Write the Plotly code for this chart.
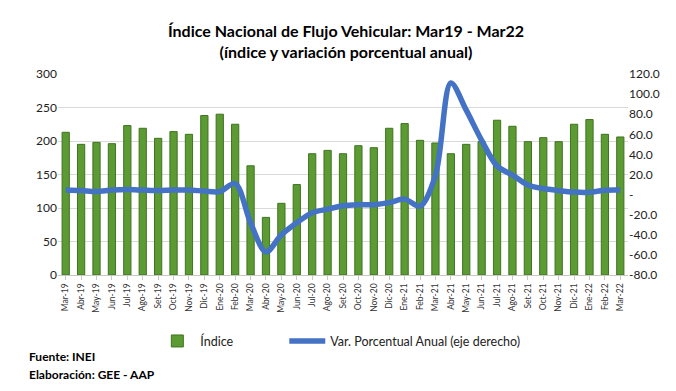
import plotly.graph_objects as go

months = ["Mar-19","Abr-19","May-19","Jun-19","Jul-19","Ago-19","Set-19","Oct-19","Nov-19","Dic-19",
          "Ene-20","Feb-20","Mar-20","Abr-20","May-20","Jun-20","Jul-20","Ago-20","Set-20","Oct-20","Nov-20","Dic-20",
          "Ene-21","Feb-21","Mar-21","Abr-21","May-21","Jun-21","Jul-21","Ago-21","Set-21","Oct-21","Nov-21","Dic-21",
          "Ene-22","Feb-22","Mar-22"]
indice = [213,195,198,196,223,219,204,214,210,238,
          240,225,163,86,107,135,181,186,181,193,190,219,
          226,201,197,181,195,199,231,222,199,205,199,225,
          232,210,206]
var_anual = [4.5,4.0,3.0,4.5,5.0,4.5,4.0,4.5,4.5,3.5,
             3.0,11.0,-28.0,-57.0,-40.0,-28.0,-18.0,-14.5,-11.0,-10.0,-10.0,-8.0,
             -4.5,-11.5,19.0,111.0,84.0,54.0,28.5,19.5,9.5,6.0,4.0,2.5,
             2.3,4.3,4.5]

right_vals = [120,100,80,60,40,20,0,-20,-40,-60,-80]
right_text = ["120.0","100.0","80.0","60.0","40.0","20.0","-","-20.0","-40.0","-60.0","-80.0"]

font_fam = "Lato, Open Sans, sans-serif"

fig = go.Figure()
fig.add_trace(go.Bar(
    x=months, y=indice, name="Índice",
    marker=dict(color="#5c9a33", line=dict(color="#3f7420", width=1)),
    width=0.47, yaxis="y", legend="legend",
))
fig.add_trace(go.Scatter(
    x=months, y=var_anual, name="Var. Porcentual Anual (eje derecho)",
    mode="lines", line=dict(color="#4472c4", width=5.5, shape="spline", smoothing=0.9),
    yaxis="y2", legend="legend2",
))

fig.update_layout(
    width=676, height=391,
    margin=dict(l=50, r=56, t=66, b=124, autoexpand=False),
    paper_bgcolor="white", plot_bgcolor="white",
    font=dict(family=font_fam, color="#222222"),
    title=dict(
        text="<b>Índice Nacional de Flujo Vehicular: Mar19 - Mar22<br>(índice y variación porcentual anual)</b>",
        x=0.5, xref="container", y=0.925, yanchor="middle",
        font=dict(size=16, color="#000000", family=font_fam),
    ),
    xaxis=dict(
        type="category", tickangle=-90, tickfont=dict(size=8.5, color="#333333"),
        showline=True, linecolor="#c8c8c8", ticks="outside", ticklen=4, tickcolor="#c8c8c8",
        showgrid=False, automargin=False,
    ),
    yaxis=dict(
        range=[0, 300], dtick=50, tickfont=dict(size=12, color="#222222"),
        showgrid=True, gridcolor="#d9d9d9", zeroline=False, showline=False, automargin=False,
    ),
    yaxis2=dict(
        range=[-80, 120], overlaying="y", side="right",
        tickvals=right_vals, ticktext=right_text, tickfont=dict(size=12, color="#222222"),
        showgrid=False, zeroline=False, showline=False, automargin=False,
    ),
    legend=dict(
        orientation="h", x=0.169, xanchor="left", y=-0.33, yanchor="middle",
        font=dict(size=12.5, color="#222222"), itemwidth=36, bgcolor="rgba(0,0,0,0)",
    ),
    legend2=dict(
        orientation="h", x=0.397, xanchor="left", y=-0.33, yanchor="middle",
        font=dict(size=12.5, color="#222222"), itemwidth=36, bgcolor="rgba(0,0,0,0)",
    ),
    bargap=0.5,
    showlegend=True,
)

fig.add_annotation(text="<b>Fuente: INEI</b>", xref="paper", yref="paper",
                   x=-0.055, y=-0.405, xanchor="left", yanchor="middle", showarrow=False,
                   font=dict(size=12, color="#000000"))
fig.add_annotation(text="<b>Elaboración: GEE - AAP</b>", xref="paper", yref="paper",
                   x=-0.055, y=-0.495, xanchor="left", yanchor="middle", showarrow=False,
                   font=dict(size=12, color="#000000"))

fig.write_html("out.html")
